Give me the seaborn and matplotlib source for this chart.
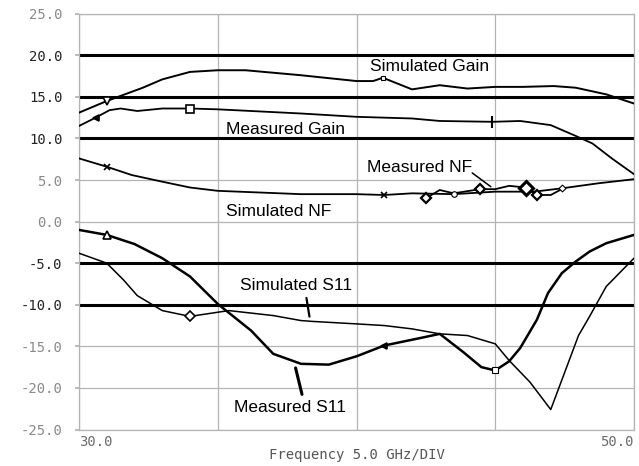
import numpy as np
import pandas as pd
import matplotlib
matplotlib.use("Agg")
import matplotlib.pyplot as plt
import seaborn as sns

# ---------------- data ----------------
sim_gain_x = [30, 31, 32.3, 33, 34, 35, 36, 37, 38, 40, 40.6, 40.95, 42, 43, 44, 45, 46, 47.1, 47.9, 49, 50]
sim_gain_y = [13.1, 14.5, 16.1, 17.1, 18.0, 18.2, 18.2, 17.9, 17.6, 16.9, 16.9, 17.3, 15.9, 16.4, 16.0, 16.2, 16.2, 16.3, 16.1, 15.3, 14.2]

meas_gain_x = [30, 30.6, 31.1, 31.5, 32.1, 33, 34, 35, 38, 40, 42, 43, 44.9, 45.9, 47, 47.9, 48.5, 49.2, 50]
meas_gain_y = [11.5, 12.5, 13.4, 13.6, 13.3, 13.6, 13.6, 13.5, 13.0, 12.6, 12.4, 12.1, 12.0, 12.1, 11.6, 10.3, 9.4, 7.6, 5.7]

sim_nf_x = [30, 31, 31.9, 33, 34, 35, 38, 40, 41, 42, 43.5, 45, 46.4, 47.4, 48.7, 50]
sim_nf_y = [7.6, 6.6, 5.6, 4.8, 4.1, 3.7, 3.3, 3.3, 3.2, 3.4, 3.3, 3.6, 3.6, 4.0, 4.6, 5.1]

meas_nf_x = [42.5, 43.0, 43.5, 44.45, 45.0, 45.5, 46.1, 46.5, 47.0, 47.45]
meas_nf_y = [2.8, 3.8, 3.4, 3.9, 3.9, 4.3, 4.1, 3.2, 3.2, 4.0]

meas_s11_x = [30, 31, 32, 33, 34, 35, 36.2, 37, 38, 39, 40, 41, 42.3, 43, 43.85, 44.5, 45, 45.5, 45.9, 46.5, 46.9, 47.4, 47.9, 48.4, 49, 50]
meas_s11_y = [-1.0, -1.6, -2.7, -4.4, -6.6, -9.9, -13.1, -15.9, -17.1, -17.2, -16.2, -14.9, -14.0, -13.5, -15.7, -17.5, -17.9, -16.8, -15.2, -11.8, -8.6, -6.2, -4.8, -3.6, -2.6, -1.6]

sim_s11_x = [30, 31, 31.6, 32.1, 33, 34, 35, 35.4, 37, 38, 38.4, 40, 41, 42, 43, 44, 45, 45.5, 46.25, 47, 48, 48.4, 49, 50]
sim_s11_y = [-3.8, -5.0, -7.0, -8.9, -10.7, -11.4, -10.9, -10.7, -11.3, -11.9, -12.0, -12.3, -12.5, -12.9, -13.5, -13.7, -14.7, -16.7, -19.3, -22.6, -13.7, -11.4, -7.8, -4.4]

spec_levels = [20, 15, 10, -5, -10]
y_ticks = [25, 20, 15, 10, 5, 0, -5, -10, -15, -20, -25]
y_tick_labels = ["25.0", "20.0", "15.0", "10.0", "5.0", "0.0", "-5.0", "-10.0", "-15.0", "-20.0", "-25.0"]
x_ticks = [30, 35, 40, 45, 50]
x_tick_labels = ["30.0", "", "", "", "50.0"]
x_label = "Frequency 5.0 GHz/DIV"

# ---------------- figure ----------------
sns.set_theme(style="white")
plt.rcParams["font.family"] = ["Liberation Sans", "DejaVu Sans"]

fig = plt.figure(figsize=(6.39, 4.66), dpi=100)
ax = fig.add_axes([79 / 639, 1 - 429.5 / 466, (634 - 79) / 639, (429.5 - 13.7) / 466])
ax.set_xlim(30, 50)
ax.set_ylim(-25, 25)

grid_c = "#b4b4b4"
ax.set_xticks(x_ticks)
ax.set_yticks(y_ticks)
ax.grid(True, color=grid_c, lw=0.9)
for s in ax.spines.values():
    s.set_color(grid_c)
    s.set_linewidth(0.9)

for lv in spec_levels:
    ax.axhline(lv, color="black", lw=2.2, zorder=2)

def draw(x, y, lw):
    df = pd.DataFrame({"f": x, "v": y})
    sns.lineplot(data=df, x="f", y="v", ax=ax, sort=False, estimator=None,
                 color="black", lw=lw, zorder=3)

draw(sim_gain_x, sim_gain_y, 1.4)
draw(meas_gain_x, meas_gain_y, 1.3)
draw(sim_nf_x, sim_nf_y, 1.3)
draw(meas_nf_x, meas_nf_y, 1.3)
draw(meas_s11_x, meas_s11_y, 1.8)
draw(sim_s11_x, sim_s11_y, 1.1)

def mark(x, y, idx, marker, ms, mew=1.2, mfc="white"):
    xa = np.asarray(x)[idx]
    ya = np.asarray(y)[idx]
    ax.plot(xa, ya, ls="none", marker=marker, ms=ms, mfc=mfc, mec="black",
            mew=mew, zorder=4)

mark(sim_gain_x, sim_gain_y, [1], "v", 6)
mark(sim_gain_x, sim_gain_y, [11], "s", 3, mew=0.8)
mark(meas_gain_x, meas_gain_y, [1], "<", 4, mfc="black")
mark(meas_gain_x, meas_gain_y, [6], "s", 6)
mark(meas_gain_x, meas_gain_y, [12], "|", 8, mew=1.5)
mark(sim_nf_x, sim_nf_y, [1, 8], "x", 4)
mark(sim_nf_x, sim_nf_y, [10], "o", 4, mew=0.8)
mark(sim_nf_x, sim_nf_y, [13], "D", 3.5, mew=0.8)
mark(meas_nf_x, meas_nf_y, [0, 3, 7], "D", 5, mew=1.6)
mark(meas_nf_x, meas_nf_y, [6], "D", 7, mew=2.2)
mark(meas_s11_x, meas_s11_y, [1], "^", 6)
mark(meas_s11_x, meas_s11_y, [11], "<", 4, mfc="black")
mark(meas_s11_x, meas_s11_y, [16], "s", 5, mew=0.8)
mark(sim_s11_x, sim_s11_y, [5], "D", 5)

# tick labels
tick_font = ["DejaVu Sans Mono"]
ax.set_yticklabels(y_tick_labels, family=tick_font, fontsize=10)
dark = {"20.0", "15.0", "10.0", "-5.0", "-10.0"}
for t in ax.get_yticklabels():
    t.set_color("#222222" if t.get_text() in dark else "#8a8a8a")
ax.set_xticklabels(x_tick_labels, family=tick_font, fontsize=10, color="#6a6a6a")
xl = ax.get_xticklabels()
xl[0].set_ha("left")
xl[-1].set_ha("right")
ax.tick_params(axis="y", length=3, color=grid_c, pad=9, left=True)
ax.tick_params(axis="x", length=0, pad=4)
ax.set_xlabel(x_label, family=tick_font, fontsize=10, color="#555555", va="center")
ax.xaxis.set_label_coords(0.5, -25.5 / 415.8)
ax.set_ylabel("")

# labels with pointers
lab = dict(fontsize=12.5, color="black", va="center", ha="left", zorder=5)
ax.text(40.49, 18.6, "Simulated Gain", **lab)
ax.text(35.3, 11.1, "Measured Gain", **lab)
ax.text(40.38, 6.55, "Measured NF", **lab)
ax.text(35.3, 1.26, "Simulated NF", **lab)
ax.text(35.8, -7.65, "Simulated S11", **lab)
ax.text(35.6, -22.3, "Measured S11", **lab)

ax.annotate("", xy=(44.92, 4.0), xytext=(44.09, 6.05),
            arrowprops=dict(arrowstyle="-", color="black", lw=1.1), zorder=5)
ax.annotate("", xy=(38.32, -11.75), xytext=(38.18, -8.85),
            arrowprops=dict(arrowstyle="-", color="black", lw=1.6), zorder=5)
ax.annotate("", xy=(37.78, -17.27), xytext=(38.06, -21.1),
            arrowprops=dict(arrowstyle="-", color="black", lw=2.2), zorder=5)

fig.savefig("out.png", dpi=100)
